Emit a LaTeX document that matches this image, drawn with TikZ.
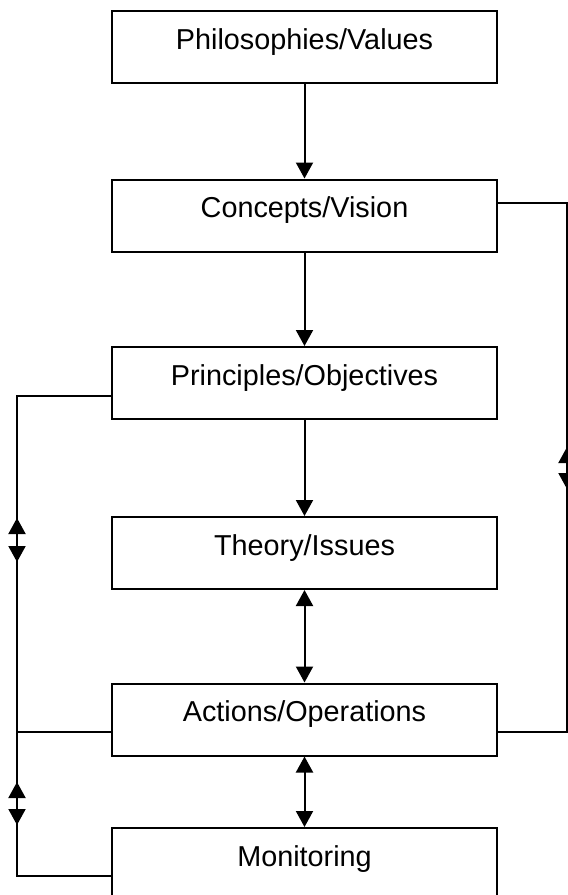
\documentclass[tikz,border=0pt]{standalone}
\usepackage{fontspec}
\setmainfont{Liberation Sans}
\usetikzlibrary{arrows.meta}
\begin{document}
\begin{tikzpicture}[x=0.5pt,y=-0.5pt,
  box/.style={draw,line width=1pt,minimum width=192.5pt,minimum height=36pt,inner sep=0pt,
    font=\fontsize{14.4}{17}\selectfont,text height=10.3pt,text depth=8pt},
  arr/.style={line width=1pt,-{Triangle[width=8.5pt,length=8pt]}},
  darr/.style={line width=1pt,{Triangle[width=8.5pt,length=8pt]}-{Triangle[width=8.5pt,length=8pt]}}]
\useasboundingbox (0,0) rectangle (568,895);
\clip (0,0) rectangle (568,895);
\node[box] (phi) at (304.5,47) {Philosophies/Values};
\node[box] (con) at (304.5,215.5) {Concepts/Vision};
\node[box] (pri) at (304.5,383) {Principles/Objectives};
\node[box] (the) at (304.5,553) {Theory/Issues};
\node[box] (act) at (304.5,719.5) {Actions/Operations};
\node[box] (mon) at (304.5,864) {Monitoring};
\coordinate (lt1) at (17,562);
\coordinate (lt2) at (17,518);
\coordinate (lt3) at (17,825);
\coordinate (lt4) at (17,782);
\coordinate (rt1) at (567,489);
\coordinate (rt2) at (567,447);
\draw[arr] (phi) -- (con);
\draw[arr] (con) -- (pri);
\draw[arr] (pri) -- (the);
\draw[darr] (the) -- (act);
\draw[darr] (act) -- (mon);
\draw[arr] ([yshift=-6.5pt]pri.west) -| (lt1);
\draw[arr] ([yshift=-6pt]act.west) -| (lt2);
\draw[arr] ([yshift=-6pt]act.west) -| (lt3);
\draw[arr] ([yshift=-6pt]mon.west) -| (lt4);
\draw[arr] ([yshift=6.25pt]con.east) -| (rt1);
\draw[arr] ([yshift=-6.25pt]act.east) -| (rt2);
\end{tikzpicture}
\end{document}
